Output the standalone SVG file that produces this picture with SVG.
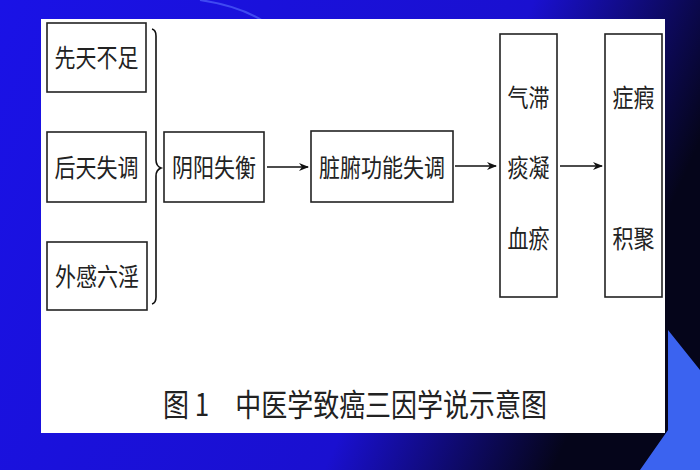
<svg xmlns="http://www.w3.org/2000/svg" width="700" height="470" viewBox="0 0 700 470">
<defs>
<linearGradient id="bg" x1="0" y1="0" x2="1" y2="0.3">
<stop offset="0" stop-color="#1a12e6"/>
<stop offset="0.7" stop-color="#1a10d0"/>
<stop offset="1" stop-color="#05051a"/>
</linearGradient>
<marker id="ah" markerWidth="10" markerHeight="8" refX="9" refY="4" orient="auto" markerUnits="userSpaceOnUse">
<path d="M0,0 L10,4 L0,8 L3,4 Z" fill="#111"/>
</marker>
<style>
.box{fill:#fff;stroke:#222;stroke-width:1.6}
.t{font-family:"Noto Sans CJK SC","Noto Sans CJK JP",sans-serif;font-size:21px;fill:#222;text-anchor:middle;transform-box:fill-box;transform-origin:center;transform:scaleY(1.18)}
.ln{stroke:#111;stroke-width:1.6;fill:none}
</style>
</defs>
<rect width="700" height="470" fill="url(#bg)"/>
<polygon points="668,330 700,370 700,470 640,470 668,430" fill="#3b63f0"/>
<path d="M200,0 Q240,6 265,22" stroke="#5a70ff" stroke-width="2" fill="none" opacity="0.6"/>
<rect x="41" y="19" width="624" height="414" fill="#fff"/>
<g id="n1"><rect class="box" x="47" y="23" width="99" height="69"/><text class="t" x="96.5" y="65">先天不足</text></g>
<g id="n2"><rect class="box" x="47" y="132" width="99" height="70"/><text class="t" x="96.5" y="175">后天失调</text></g>
<g id="n3"><rect class="box" x="47" y="242" width="100" height="68"/><text class="t" x="97" y="284">外感六淫</text></g>
<g id="n4"><rect class="box" x="164" y="132" width="100" height="70"/><text class="t" x="214" y="175">阴阳失衡</text></g>
<g id="n5"><rect class="box" x="311" y="131" width="142" height="71"/><text class="t" x="382" y="175">脏腑功能失调</text></g>
<g id="n6"><rect class="box" x="500" y="34" width="57" height="263"/><text class="t" x="528.5" y="105">气滞</text><text class="t" x="528.5" y="175">痰凝</text><text class="t" x="528.5" y="246">血瘀</text></g>
<g id="n7"><rect class="box" x="605" y="34" width="57" height="263"/><text class="t" x="633.5" y="105">症瘕</text><text class="t" x="633.5" y="246">积聚</text></g>
<g id="connectors">
<path class="ln" d="M152,29 Q156,30 156,36 L156,160 Q156,166 161,168 Q156,170 156,176 L156,297 Q156,303 152,304"/>
<line class="ln" x1="267" y1="167" x2="308" y2="167" marker-end="url(#ah)"/>
<line class="ln" x1="455" y1="166" x2="496" y2="166" marker-end="url(#ah)"/>
<line class="ln" x1="560" y1="166" x2="602" y2="166" marker-end="url(#ah)"/>
</g>
<text x="355" y="414" font-family="'Noto Sans CJK SC',sans-serif" font-size="26" fill="#222" text-anchor="middle" style="transform-box:fill-box;transform-origin:center;transform:scaleY(1.2)">图 1　中医学致癌三因学说示意图</text>
</svg>
